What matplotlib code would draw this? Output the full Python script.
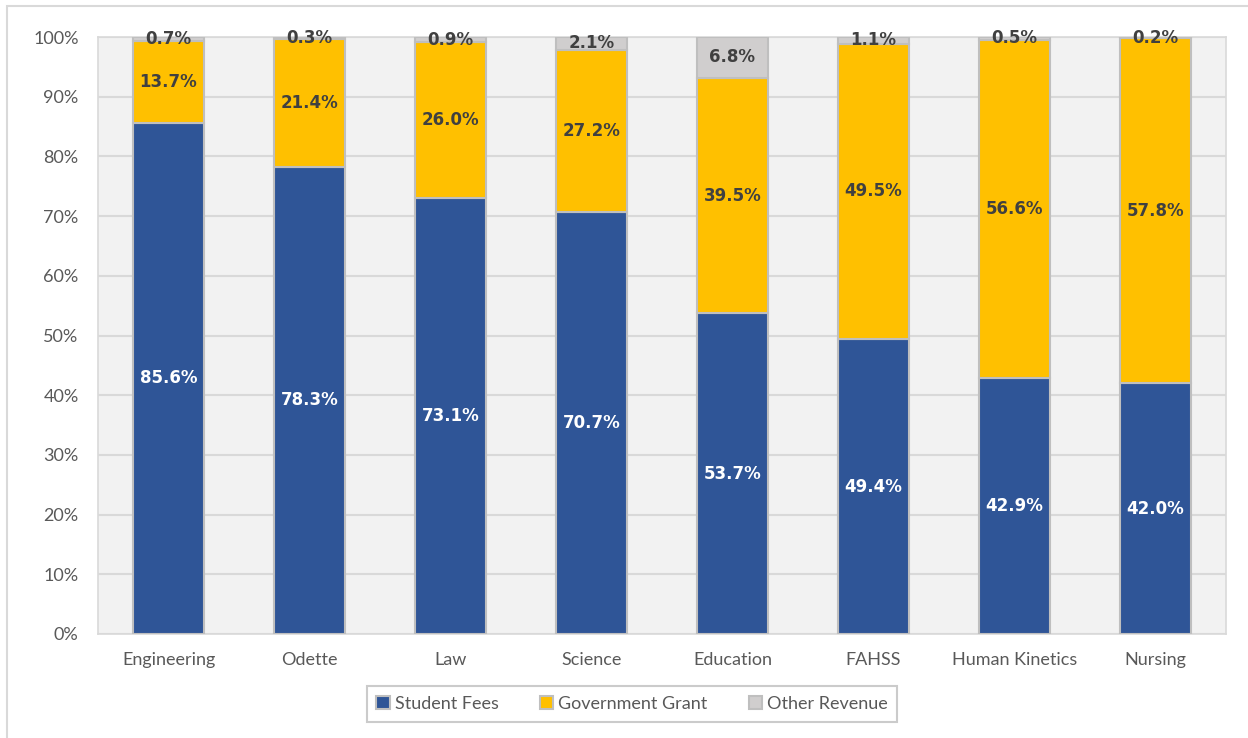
import matplotlib
matplotlib.use("Agg")
import matplotlib.pyplot as plt
import matplotlib.patches as mpatches
import numpy as np

plt.rcParams["font.family"] = ["Lato", "DejaVu Sans"]

faculties = ["Engineering", "Odette", "Law", "Science", "Education",
             "FAHSS", "Human Kinetics", "Nursing"]
student_fees = [85.6, 78.3, 73.1, 70.7, 53.7, 49.4, 42.9, 42.0]
government_grant = [13.7, 21.4, 26.0, 27.2, 39.5, 49.5, 56.6, 57.8]
other_revenue = [0.7, 0.3, 0.9, 2.1, 6.8, 1.1, 0.5, 0.2]

series = [
    ("Student Fees", student_fees, "#2F5597", "white"),
    ("Government Grant", government_grant, "#FFC000", "#404040"),
    ("Other Revenue", other_revenue, "#D0CECE", "#404040"),
]

fig = plt.figure(figsize=(12.48, 7.38), dpi=100)
ax = fig.add_axes([98 / 1248, 1 - 634 / 738, 1128 / 1248, 597 / 738])
ax.set_facecolor("#F2F2F2")

# 外框
fig.patches.append(mpatches.Rectangle((7 / 1248, -0.1), 1.2, 1 - 6 / 738 + 0.1,
                                      transform=fig.transFigure, fill=False,
                                      edgecolor="#D9D9D9", linewidth=1.5))

x = np.arange(len(faculties))
bottom = np.zeros(len(faculties))
for name, vals, color, txt_color in series:
    vals = np.array(vals)
    ax.bar(x, vals, 0.5, bottom=bottom, color=color, edgecolor="#BFBFBF",
           linewidth=1.5, label=name, zorder=3)
    for xi, b, v in zip(x, bottom, vals):
        ax.text(xi, b + v / 2, f"{v:.1f}%", ha="center", va="center",
                color=txt_color, fontsize=12, fontweight="bold",
                fontfamily="DejaVu Sans", zorder=4, clip_on=False)
    bottom += vals

ax.set_xlim(-0.5, len(faculties) - 0.5)
ax.set_ylim(0, 100)
ax.set_yticks(np.arange(0, 101, 10))
ax.set_yticklabels([f"{t}%" for t in range(0, 101, 10)])
ax.set_xticks(x)
ax.set_xticklabels(faculties)
ax.tick_params(axis="both", length=0, labelsize=13, colors="#595959")
ax.tick_params(axis="y", pad=14)
ax.tick_params(axis="x", pad=13)
ax.yaxis.grid(True, color="#D9D9D9", linewidth=1.5, zorder=0)
ax.set_axisbelow(True)
for s in ax.spines.values():
    s.set_color("#D9D9D9")
    s.set_linewidth(1.2)

leg = fig.legend(loc="center", bbox_to_anchor=(632 / 1248, 1 - 704 / 738), ncol=3,
                 fontsize=13, frameon=True, fancybox=False, handlelength=0.75,
                 handleheight=0.75, handletextpad=0.25, columnspacing=2.3,
                 borderpad=0.55, borderaxespad=0)
leg.get_frame().set_edgecolor("#BFBFBF")
leg.get_frame().set_linewidth(1.5)
for t in leg.get_texts():
    t.set_color("#595959")

fig.savefig("out.png", dpi=100)
